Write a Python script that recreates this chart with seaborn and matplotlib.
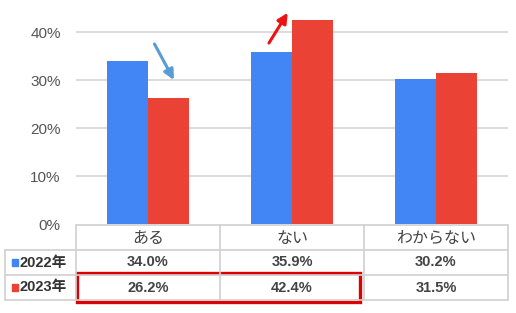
import matplotlib
matplotlib.use("Agg")
import matplotlib.pyplot as plt
import seaborn as sns
import pandas as pd
from matplotlib.patches import Rectangle, FancyArrowPatch

categories = ["ある", "ない", "わからない"]
years = ["2022年", "2023年"]
values_2022 = [34.0, 35.9, 30.2]
values_2023 = [26.2, 42.4, 31.5]
colors = ["#4285F4", "#EA4335"]
yticks = [0, 10, 20, 30, 40]

df = pd.DataFrame({
    "cat": categories * 2,
    "year": [years[0]] * 3 + [years[1]] * 3,
    "val": values_2022 + values_2023,
})

sns.set_theme(style="white")
FAM = ["Liberation Sans", "Noto Sans CJK JP", "DejaVu Sans"]
plt.rcParams["font.family"] = FAM

W, H = 516, 313
fig = plt.figure(figsize=(W / 100, H / 100), dpi=100)
ax = fig.add_axes([76 / W, (H - 224) / H, 432 / W, 216 / H])

sns.barplot(data=df, x="cat", y="val", hue="year", palette=colors,
            width=0.57, gap=0, saturation=1, ax=ax, legend=False)
for p in ax.patches:
    p.set_edgecolor("none")
ax.set_xlim(-0.5, 2.5)
ax.set_ylim(0, 45)
ax.set_yticks(yticks)
ax.set_yticklabels([f"{t}%" for t in yticks], fontsize=11, color="#555555")
ax.tick_params(axis="y", length=0, pad=11)
ax.set_xticks([])
ax.set_xlabel("")
ax.set_ylabel("")
for s in ax.spines.values():
    s.set_visible(False)
for t in yticks[1:]:
    ax.axhline(t, color="#d9d9d9", lw=1.3, zorder=0)

# arrows
a1 = FancyArrowPatch((0.045, 37.5), (0.18, 30.0),
                     arrowstyle="-|>,head_length=6,head_width=3",
                     color="#5B9BD5", lw=2.2, mutation_scale=1, shrinkA=0, shrinkB=0,
                     clip_on=False)
ax.add_patch(a1)
a2 = FancyArrowPatch((0.84, 37.7), (0.97, 44.0),
                     arrowstyle="-|>,head_length=6,head_width=3",
                     color="#EE1111", lw=2.2, mutation_scale=1, shrinkA=0, shrinkB=0,
                     clip_on=False)
ax.add_patch(a2)

# table
left_px = 5
tax = fig.add_axes([left_px / W, (H - 300) / H, (508 - left_px) / W, 75 / H])
x0 = -0.5 - (76 - left_px) / 144
tax.set_xlim(x0, 2.5)
tax.set_ylim(3, 0)
tax.axis("off")
lc = "#d0d0d0"
lw = 1.2
tax.plot([-0.5, 2.5], [0, 0], color=lc, lw=lw, clip_on=False)
for yy in [1, 2, 3]:
    tax.plot([x0, 2.5], [yy, yy], color=lc, lw=lw, clip_on=False)
for xx in [-0.5, 0.5, 1.5, 2.5]:
    tax.plot([xx, xx], [0, 3], color=lc, lw=lw, clip_on=False)
tax.plot([x0, x0], [1, 3], color=lc, lw=lw, clip_on=False)

for i, c in enumerate(categories):
    tax.text(i, 0.52, c, ha="center", va="center", fontsize=11.5, color="#444444",
             family=["Noto Sans CJK JP", "DejaVu Sans"])
for r, (vals, yr, col) in enumerate(zip([values_2022, values_2023], years, colors)):
    for i, v in enumerate(vals):
        tax.text(i, 1.5 + r, f"{v:.1f}%", ha="center", va="center", fontsize=10.5,
                 color="#444444", fontweight="bold")
    tax.add_patch(Rectangle((x0 + 7 / 144, 1.5 + r - 0.14), 6.5 / 144, 0.28,
                            color=col, clip_on=False))
    tax.text(x0 + 15 / 144, 1.5 + r, yr, ha="left", va="center", fontsize=10.5,
             color="#333333", fontweight="bold")

# red highlight box
tax.add_patch(Rectangle((-0.49, 1.9), 1.96, 1.18, fill=False, edgecolor="#DD0000",
                        lw=2.4, clip_on=False))

fig.savefig("out.png", dpi=100)
